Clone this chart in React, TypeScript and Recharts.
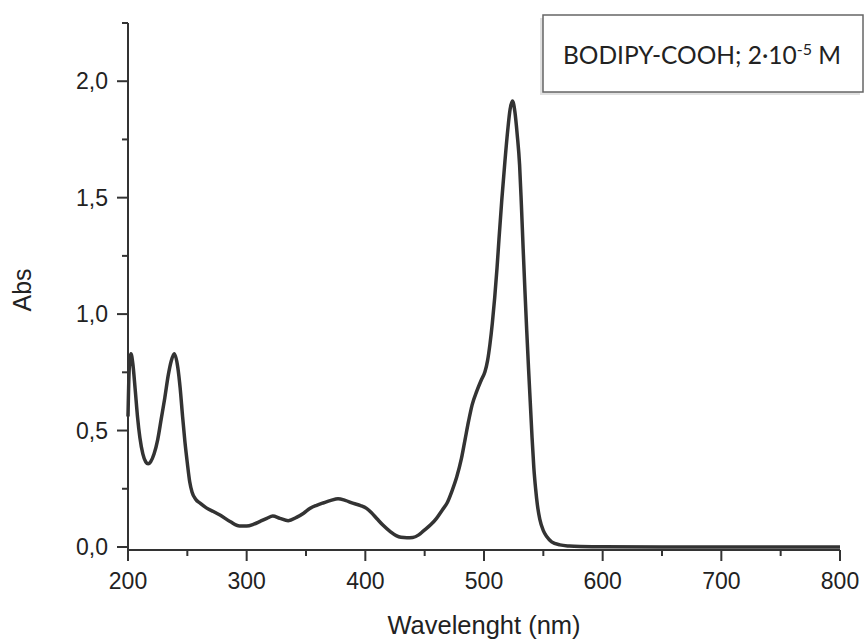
import { Line, LineChart, XAxis, YAxis } from 'recharts';

// UV-Vis absorption spectrum
const wavelengths = [
  200, 201, 202.5, 204, 206, 208, 210, 212.5, 215, 217, 219, 222, 225, 228, 231, 234, 236.5, 239, 242,
  244, 246, 248, 250, 252, 254, 257, 261, 266, 272, 277.5, 286, 294, 300, 306, 311, 317, 322, 328, 335,
  342, 348, 353.5, 359, 365, 371, 377, 383, 390, 396, 401, 405, 410, 415, 421, 426, 430, 435, 440, 445,
  449, 455, 460, 465, 469, 473, 477, 481, 484, 487, 490, 494, 498, 500.8, 503, 505, 507, 509, 511,
  512.6, 515, 517.7, 520, 522, 524, 526, 528, 530, 531.5, 533, 534.5, 536, 537.5, 539, 540.5, 542,
  543.5, 545, 547, 550, 553, 557, 564, 572, 581, 600, 650, 700, 750, 800,
];
const absorbance = [
  0.56, 0.76, 0.83, 0.79, 0.68, 0.56, 0.47, 0.4, 0.365, 0.357, 0.365, 0.4, 0.46, 0.55, 0.64, 0.74, 0.8,
  0.83, 0.77, 0.68, 0.56, 0.45, 0.36, 0.28, 0.235, 0.205, 0.187, 0.168, 0.152, 0.137, 0.109, 0.09, 0.09,
  0.098, 0.109, 0.123, 0.133, 0.123, 0.113, 0.127, 0.145, 0.166, 0.179, 0.19, 0.2, 0.207, 0.2, 0.187,
  0.178, 0.166, 0.148, 0.12, 0.093, 0.066, 0.049, 0.042, 0.04, 0.041, 0.052, 0.069, 0.095, 0.123, 0.16,
  0.19, 0.24, 0.3, 0.38, 0.46, 0.54, 0.61, 0.67, 0.72, 0.752, 0.8, 0.87, 0.96, 1.07, 1.2, 1.32, 1.49,
  1.66, 1.79, 1.88, 1.915, 1.87, 1.77, 1.64, 1.47, 1.28, 1.1, 0.93, 0.77, 0.62, 0.47, 0.34, 0.25, 0.18,
  0.12, 0.07, 0.044, 0.022, 0.009, 0.004, 0.002, 0.001, 0, 0, 0, 0,
];

const xTicks = [200, 250, 300, 350, 400, 450, 500, 550, 600, 650, 700, 750, 800];
const yTicks = [0, 0.25, 0.5, 0.75, 1, 1.25, 1.5, 1.75, 2, 2.25];

const legendText = 'BODIPY-COOH; 2·10';
const legendExp = '-5';
const legendUnit = ' M';

const data = wavelengths.map((wl, i) => ({ wl, abs: absorbance[i] }));

const INK = '#333';
const FONT = '"Liberation Sans", Arial, sans-serif';

function XTick({ x, y, payload }: any) {
  const major = payload.value % 100 === 0;
  return (
    <g>
      <line x1={x} x2={x} y1={y} y2={y + (major ? 11 : 6)} stroke={INK} strokeWidth={2} />
      {major ? (
        <text x={x} y={y + 39} textAnchor="middle" fontSize={23} fontFamily={FONT} fill="#222">
          {payload.value}
        </text>
      ) : null}
    </g>
  );
}

function YTick({ x, y, payload }: any) {
  const major = Math.abs((payload.value * 2) % 1) < 1e-6;
  return (
    <g>
      <line x1={x} x2={x - (major ? 11 : 6)} y1={y} y2={y} stroke={INK} strokeWidth={2} />
      {major ? (
        <text x={x - 20} y={y + 8} textAnchor="end" fontSize={23} fontFamily={FONT} fill="#222">
          {payload.value.toFixed(1).replace('.', ',')}
        </text>
      ) : null}
    </g>
  );
}

export default function App() {
  return (
    <div style={{ position: 'absolute', left: 0, top: 0, width: 865, height: 642, background: '#fff' }}>
      <LineChart width={865} height={642} data={data} margin={{ top: 23, right: 25, left: 0, bottom: 0 }}>
        <XAxis
          type="number"
          dataKey="wl"
          domain={[200, 800]}
          ticks={xTicks}
          interval={0}
          height={92}
          tickSize={0}
          tickMargin={0}
          tickLine={false}
          axisLine={{ stroke: INK, strokeWidth: 2 }}
          tick={<XTick />}
        />
        <YAxis
          type="number"
          domain={[-0.013, 2.25]}
          ticks={yTicks}
          interval={0}
          width={128}
          tickSize={0}
          tickMargin={0}
          tickLine={false}
          axisLine={{ stroke: INK, strokeWidth: 2 }}
          tick={<YTick />}
        />
        <Line
          type="monotone"
          dataKey="abs"
          stroke={INK}
          strokeWidth={3.5}
          dot={false}
          isAnimationActive={false}
        />
        <text x={484} y={634} textAnchor="middle" fontSize={25.5} fontFamily={FONT} fill="#222">
          Wavelenght (nm)
        </text>
        <text
          x={31}
          y={290}
          textAnchor="middle"
          fontSize={25}
          fontFamily={FONT}
          fill="#222"
          transform="rotate(-90 31 290)"
        >
          Abs
        </text>
        <g>
          <rect x={540} y={18} width={320} height={77} fill="#d4d4d4" opacity={0.7} />
          <rect x={543} y={15} width={320} height={77} fill="#fff" stroke="#666" strokeWidth={1.5} />
          <text x={563} y={63.5} fontSize={24.5} fontFamily="Lato, sans-serif" fill="#222">
            {legendText}
            <tspan fontSize={16} dy={-9}>
              {legendExp}
            </tspan>
            <tspan dy={9}>{legendUnit}</tspan>
          </text>
        </g>
      </LineChart>
    </div>
  );
}
